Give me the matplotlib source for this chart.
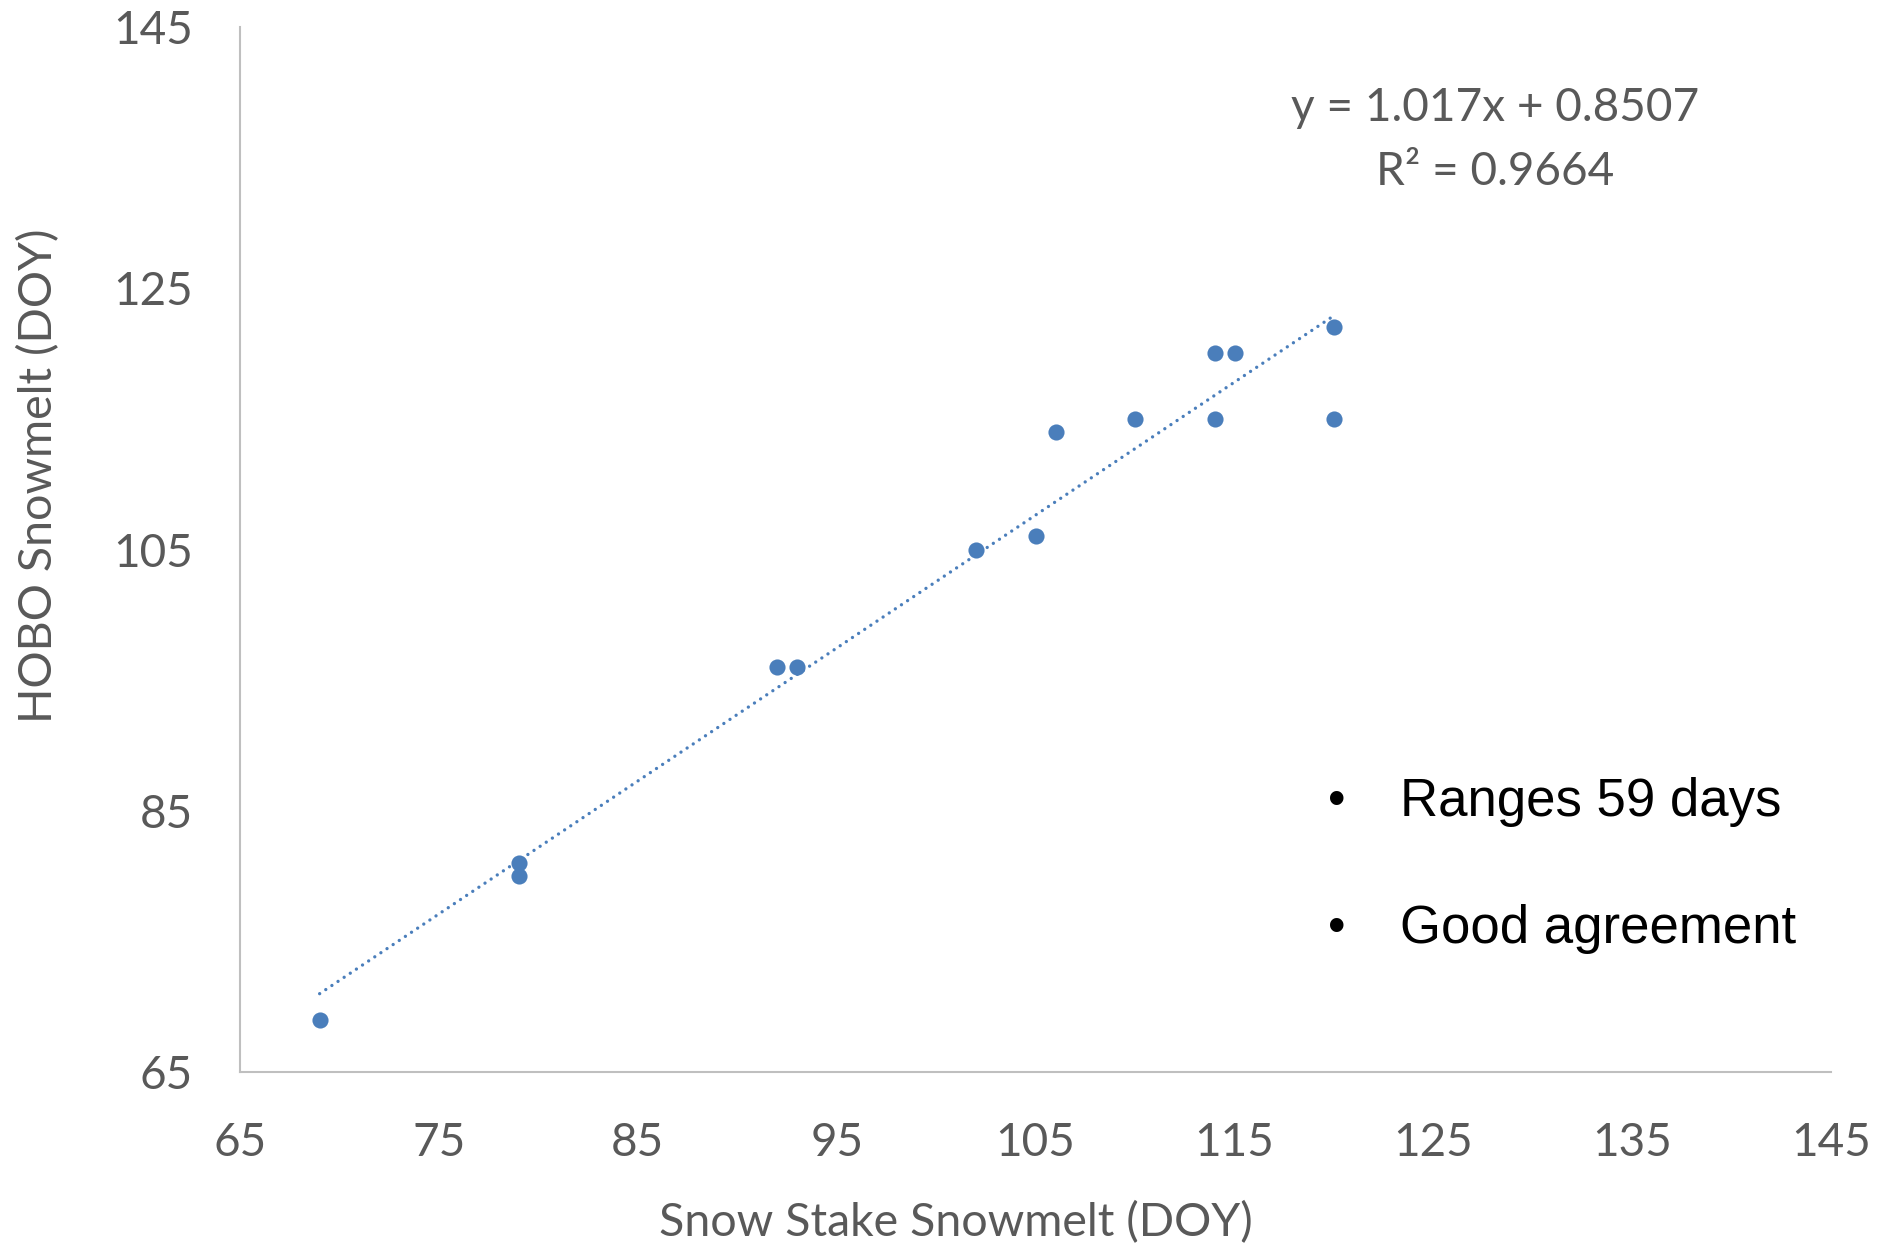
import matplotlib
matplotlib.use("Agg")
import matplotlib.pyplot as plt
import numpy as np

# snowmelt day of year, snow stake vs HOBO logger
stake_doy = [69, 79, 79, 92, 93, 102, 105, 106, 110, 114, 114, 115, 120, 120]
hobo_doy = [69, 81, 80, 96, 96, 105, 106, 114, 115, 115, 120, 120, 122, 115]

slope = 1.017
intercept = 0.8507
r_squared = 0.9664

ticks = [65, 75, 85, 95, 105, 115, 125, 135, 145]
yticks = [65, 85, 105, 125, 145]
notes = ["Ranges 59 days", "Good agreement"]

gray = "#595959"
blue = "#4a7ebb"

fig = plt.figure(figsize=(18.83, 12.54), dpi=100)
ax = fig.add_axes([0.1275, 0.1448, 0.845, 0.834])

ax.scatter(stake_doy, hobo_doy, s=135, color=blue, zorder=3, linewidths=0)

# linear trendline, dotted like excel
xs = np.array([min(stake_doy), max(stake_doy)])
ax.plot(xs, slope * xs + intercept, color=blue, lw=2.4,
        linestyle=(0, (0.01, 2.2)), dash_capstyle="round", zorder=2)

ax.set_xlim(65, 145)
ax.set_ylim(65, 145)
ax.set_xticks(ticks)
ax.set_yticks(yticks)

font = "Lato"
ax.tick_params(length=0, labelsize=33, labelcolor=gray)
ax.tick_params(axis="x", pad=36)
ax.tick_params(axis="y", pad=34)
for lab in ax.get_xticklabels() + ax.get_yticklabels():
    lab.set_family(font)

for side in ["top", "right"]:
    ax.spines[side].set_visible(False)
for side in ["left", "bottom"]:
    ax.spines[side].set_color("#bfbfbf")
    ax.spines[side].set_linewidth(1.5)

ax.set_xlabel("Snow Stake Snowmelt (DOY)", fontsize=33.5, color=gray,
              family=font, va="center")
ax.xaxis.set_label_coords(0.45, -0.1435)
ax.set_ylabel("HOBO Snowmelt (DOY)", fontsize=33.5, color=gray,
              family=font, va="center")
ax.yaxis.set_label_coords(-0.1267, 0.5706)

ax.text(0.789, 0.922, "y = %.3fx + %.4f" % (slope, intercept),
        transform=ax.transAxes, ha="center", va="center",
        fontsize=33, color=gray, family=font)
ax.text(0.789, 0.8605, "R² = %.4f" % r_squared,
        transform=ax.transAxes, ha="center", va="center",
        fontsize=33, color=gray, family=font)

for i, note in enumerate(notes):
    y = 0.259 - i * 0.122
    ax.text(0.689, y, "•", transform=ax.transAxes, ha="center", va="center",
            fontsize=36, color="black", family="Liberation Sans")
    ax.text(0.729, y, note, transform=ax.transAxes, ha="left", va="center",
            fontsize=38, color="black", family="Liberation Sans")

fig.savefig("out.png", dpi=100)
